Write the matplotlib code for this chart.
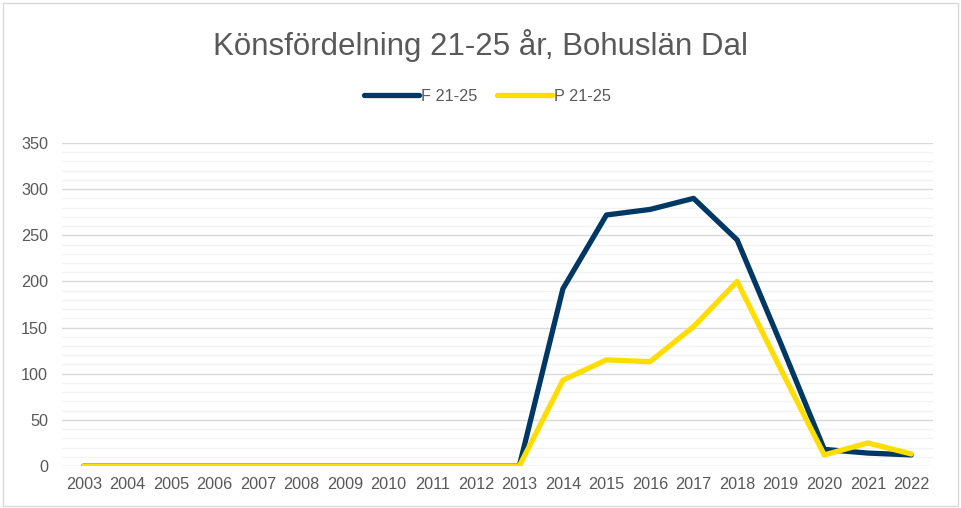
import matplotlib
matplotlib.use("Agg")
import matplotlib.pyplot as plt
from matplotlib.ticker import MultipleLocator
from matplotlib.patches import Rectangle

plt.rcParams['font.family'] = ['Liberation Sans', 'DejaVu Sans']

years = [str(y) for y in range(2003, 2023)]
f_vals = [0, 0, 0, 0, 0, 0, 0, 0, 0, 0, 0, 192, 272, 278, 290, 245, 133, 18, 14, 12]
p_vals = [0, 0, 0, 0, 0, 0, 0, 0, 0, 0, 0, 93, 115, 113, 151, 200, 105, 12, 25, 13]

text_col = '#595959'
fig = plt.figure(figsize=(9.61, 5.08), dpi=100)
fig.patches.append(Rectangle((0.003, 0.004), 0.994, 0.99, transform=fig.transFigure,
                             fill=False, edgecolor='#D9D9D9', linewidth=1))
ax = fig.add_axes([0.0645, 0.0827, 0.9065, 0.6358])

x = list(range(len(years)))
ax.plot(x, f_vals, color='#003865', linewidth=3.8, solid_capstyle='round',
        solid_joinstyle='round', label='F 21-25', zorder=3)
ax.plot(x, p_vals, color='#FFDD00', linewidth=3.8, solid_capstyle='round',
        solid_joinstyle='round', label='P 21-25', zorder=4)

ax.set_xlim(-0.5, len(years) - 0.5)
ax.set_ylim(0, 350)
ax.set_xticks(x)
ax.set_xticklabels(years)
ax.yaxis.set_major_locator(MultipleLocator(50))
ax.yaxis.set_minor_locator(MultipleLocator(10))
ax.grid(axis='y', which='major', color='#D9D9D9', linewidth=1, zorder=0)
ax.grid(axis='y', which='minor', color='#F2F2F2', linewidth=1, zorder=0)
ax.set_axisbelow(True)
for s in ax.spines.values():
    s.set_visible(False)
ax.tick_params(axis='both', which='both', length=0, colors=text_col, labelsize=11.7)
ax.tick_params(axis='y', pad=10)
ax.tick_params(axis='x', pad=8)

fig.text(0.5, 0.91, 'Könsfördelning 21-25 år, Bohuslän Dal', ha='center', va='center',
         fontsize=22.5, color=text_col)
leg = fig.legend(loc='center', bbox_to_anchor=(0.507, 0.81), ncol=2, frameon=False,
                 fontsize=11.7, handlelength=3.4, columnspacing=1.2, handletextpad=0.1)
for t in leg.get_texts():
    t.set_color(text_col)

fig.savefig('out.png', dpi=100)
